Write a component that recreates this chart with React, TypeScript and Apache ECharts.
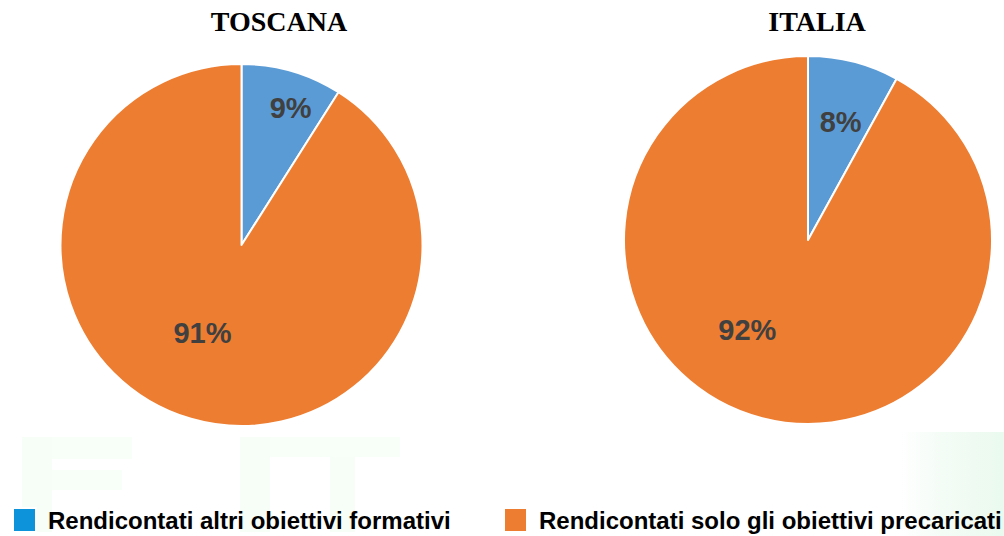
import React, { useEffect, useRef } from "react";
import * as echarts from "echarts";

const categories = [
  "Rendicontati altri obiettivi formativi",
  "Rendicontati solo gli obiettivi precaricati",
];
const titles = ["TOSCANA", "ITALIA"];
const toscanaValues = [9, 91];
const italiaValues = [8, 92];

const sliceColors = ["#5b9bd5", "#ed7d31"];
const legendColors = ["#0d93d9", "#ed7d31"];

export default function App() {
  const ref = useRef<HTMLDivElement>(null);
  useEffect(() => {
    if (!ref.current) return;
    const chart = echarts.init(ref.current, null, { renderer: "svg" });
    const labelShift = [
      [
        [23, -47],
        [-13, -2],
      ],
      [
        [9, -26],
        [-37, -2],
      ],
    ];
    const mkSeries = (
      name: string,
      values: number[],
      center: [number, number],
      radius: number,
      idx: number
    ) => ({
      type: "pie",
      name,
      center,
      radius,
      startAngle: 90,
      clockwise: true,
      avoidLabelOverlap: false,
      itemStyle: { borderColor: "#ffffff", borderWidth: 2 },
      label: {
        show: true,
        position: "inside",
        formatter: "{c}%",
        color: "#404040",
        fontFamily: "Liberation Sans, Arial, sans-serif",
        fontWeight: "bold",
        fontSize: 29,
      },
      labelLine: { show: false },
      labelLayout: (p: any) => ({
        dx: labelShift[idx][p.dataIndex][0],
        dy: labelShift[idx][p.dataIndex][1],
      }),
      emphasis: { disabled: true },
      data: values.map((v, i) => ({
        name: categories[i],
        value: v,
        itemStyle: { color: sliceColors[i] },
      })),
    });

    const titleStyle = {
      fontFamily: "Liberation Serif, Times New Roman, serif",
      fontWeight: "bold",
      fontSize: 28,
      color: "#000000",
    };

    const legendLefts = [12, 503];
    const mkLegend = (i: number) => ({
      left: legendLefts[i],
      top: 507,
      padding: 0,
      itemWidth: 23,
      itemHeight: 24,
      icon: "rect",
      selectedMode: false,
      textStyle: {
        fontFamily: "Liberation Sans, Arial, sans-serif",
        fontWeight: "bold",
        fontSize: 24,
        color: "#000000",
        padding: [0, 0, 0, 7],
      },
      data: [{ name: categories[i], itemStyle: { color: legendColors[i] } }],
    });

    chart.setOption({
      animation: false,
      backgroundColor: "#ffffff",
      title: [
        { text: titles[0], left: 274, top: 2, textAlign: "center", textStyle: titleStyle },
        { text: titles[1], left: 812, top: 2, textAlign: "center", textStyle: titleStyle },
      ],
      legend: [mkLegend(0), mkLegend(1)],
      graphic: [
        { type: "rect", z: -10, shape: { x: 22, y: 437, width: 30, height: 95 }, style: { fill: "#f7fdf7" } },
        { type: "rect", z: -10, shape: { x: 52, y: 437, width: 80, height: 22 }, style: { fill: "#f8fef8" } },
        { type: "rect", z: -10, shape: { x: 52, y: 470, width: 70, height: 20 }, style: { fill: "#f8fef8" } },
        { type: "rect", z: -10, shape: { x: 240, y: 437, width: 30, height: 95 }, style: { fill: "#f7fdf7" } },
        { type: "rect", z: -10, shape: { x: 270, y: 437, width: 130, height: 20 }, style: { fill: "#f8fef8" } },
        { type: "rect", z: -10, shape: { x: 330, y: 457, width: 25, height: 75 }, style: { fill: "#f7fdf7" } },
        {
          type: "rect",
          z: -10,
          shape: { x: 900, y: 432, width: 104, height: 104 },
          style: {
            fill: new echarts.graphic.LinearGradient(0, 0, 1, 0, [
              { offset: 0, color: "#ffffff" },
              { offset: 0.4, color: "#f4fcf6" },
              { offset: 1, color: "#eafaee" },
            ]),
          },
        },
      ],
      series: [
        mkSeries(titles[0], toscanaValues, [241.5, 245], 181, 0),
        mkSeries(titles[1], italiaValues, [808, 240], 184, 1),
      ],
    });
    return () => chart.dispose();
  }, []);
  return (
    <div
      ref={ref}
      style={{ width: 1004, height: 536, position: "absolute", left: 0, top: 0 }}
    />
  );
}
